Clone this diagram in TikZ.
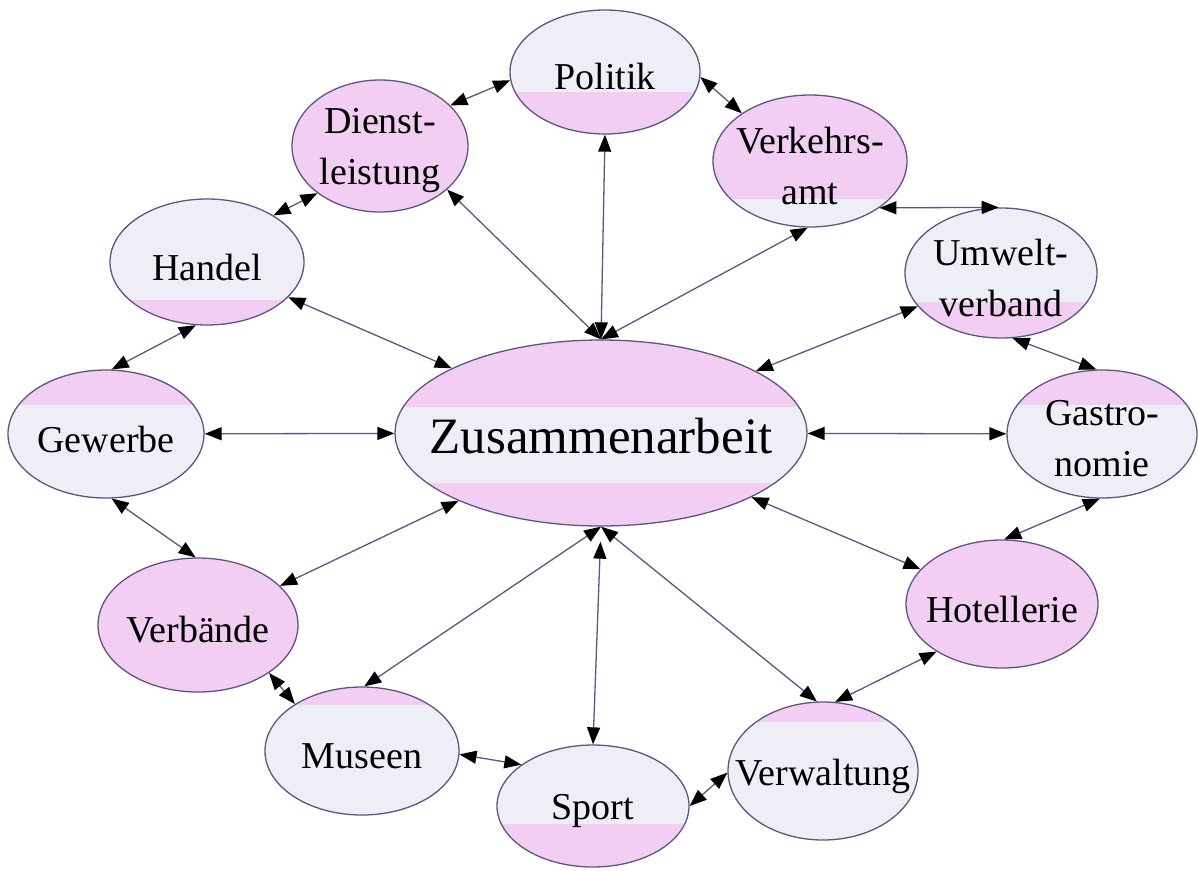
\documentclass[tikz,border=0pt]{standalone}
\usepackage{fontspec}
\setmainfont{Liberation Serif}
\usetikzlibrary{shapes.geometric,arrows.meta}
\definecolor{pk}{RGB}{242,206,242}
\definecolor{lt}{RGB}{238,238,247}
\definecolor{bord}{RGB}{95,85,130}
\definecolor{ln}{RGB}{95,85,130}
\begin{document}
\begin{tikzpicture}[x=1pt,y=-1pt,
 bub/.style={ellipse, draw=bord, line width=1.3pt, fill=lt, inner sep=0pt},
 lbl/.style={align=center, inner sep=0pt, yshift=-5pt, font=\fontsize{38}{51}\selectfont},
 pkbot/.style={path picture={\fill[pk] ([yshift=#1]path picture bounding box.south west) rectangle (path picture bounding box.south east);}},
 pktop/.style={path picture={\fill[pk] ([yshift=-#1]path picture bounding box.north west) rectangle (path picture bounding box.north east);}},
 ltbot/.style={fill=pk, path picture={\fill[lt] ([yshift=#1]path picture bounding box.south west) rectangle (path picture bounding box.south east);}},
 link/.style={draw=ln, line width=1.3pt, {Triangle[length=17pt,width=13pt,black]}-{Triangle[length=17pt,width=13pt,black]}},
]
\fill[white] (0,0) rectangle (1198,870);
\useasboundingbox (0,0) rectangle (1198,870);

\node[bub, pkbot=42pt, minimum width=190pt, minimum height=124pt, label={[lbl]center:Politik}] (Pol) at (605,72) {};
\node[bub, fill=pk, minimum width=176pt, minimum height=132pt, label={[lbl]center:{Dienst-\\leistung}}] (D) at (380,146) {};
\node[bub, ltbot=28pt, minimum width=194pt, minimum height=132pt, label={[lbl]center:{Verkehrs-\\amt}}] (Vk) at (810,161) {};
\node[bub, pkbot=25pt, minimum width=194pt, minimum height=126pt, label={[lbl]center:Handel}] (Ha) at (207,262) {};
\node[bub, pkbot=36pt, minimum width=192pt, minimum height=130pt, label={[lbl]center:{Umwelt-\\verband}}] (Uw) at (1001,273) {};
\node[bub, pktop=35pt, minimum width=196pt, minimum height=128pt, label={[lbl]center:Gewerbe}] (Ge) at (106,434) {};
\node[bub, minimum width=412pt, minimum height=186pt,
  path picture={\fill[pk] ([yshift=-67pt]path picture bounding box.north west) rectangle (path picture bounding box.north east);
                \fill[pk] ([yshift=43pt]path picture bounding box.south west) rectangle (path picture bounding box.south east);},
  label={[lbl, yshift=2pt, font=\fontsize{51}{60}\selectfont]center:Zusammenarbeit}]
  (Z) at (601,433) {};
\node[bub, pktop=35pt, minimum width=190pt, minimum height=128pt, label={[lbl]center:{Gastro-\\nomie}}] (Ga) at (1102,434) {};
\node[bub, fill=pk, minimum width=200pt, minimum height=134pt, label={[lbl]center:Verbände}] (Vb) at (198,625) {};
\node[bub, fill=pk, minimum width=192pt, minimum height=128pt, label={[lbl]center:Hotellerie}] (Ho) at (1002,604) {};
\node[bub, pktop=18pt, minimum width=194pt, minimum height=128pt, label={[lbl]center:Museen}] (Mu) at (362,751) {};
\node[bub, pkbot=43pt, minimum width=192pt, minimum height=122pt, label={[lbl]center:Sport}] (Sp) at (593,806) {};
\node[bub, pktop=20pt, minimum width=190pt, minimum height=138pt, label={[lbl]center:Verwaltung}] (Vw) at (823,771) {};

% spokes
\draw[link] (Z.north) -- (Pol.south);
\draw[link] (Z.north) -- (D.-33);
\draw[link] (Z.north) -- (Vk.-92);
\draw[link] (Z) -- (Ha);
\draw[link] (Z) -- (Uw);
\draw[link] (Z) -- (Ge);
\draw[link] (Z) -- (Ga);
\draw[link] (Z) -- (Vb);
\draw[link] (Z) -- (Ho);
\draw[link] (Z.south) -- (Mu.88);
\draw[link, shorten <=15pt] (Z.south) -- (Sp.north);
\draw[link] (Z.south) -- (Vw.95);

% ring
\draw[link] (Pol.185) -- (D.30);
\draw[link] (Pol.-3) -- (Vk.145);
\draw[link] (Vk.-34) -- (Uw.92);
\draw[link] (Uw.-80) -- (Ga.95);
\draw[link] (Ga.-92) -- (Ho.88);
\draw[link] (Ho.216) -- (Vw.80);
\draw[link] (Vw.181) -- (Sp.east);
\draw[link] (Sp.150) -- (Mu.-2);
\draw[link] (Mu.145) -- (Vb.-34);
\draw[link] (Vb.92) -- (Ge.-85);
\draw[link] (Ge.85) -- (Ha.-100);
\draw[link] (Ha.35) -- (D.217);
\end{tikzpicture}
\end{document}
